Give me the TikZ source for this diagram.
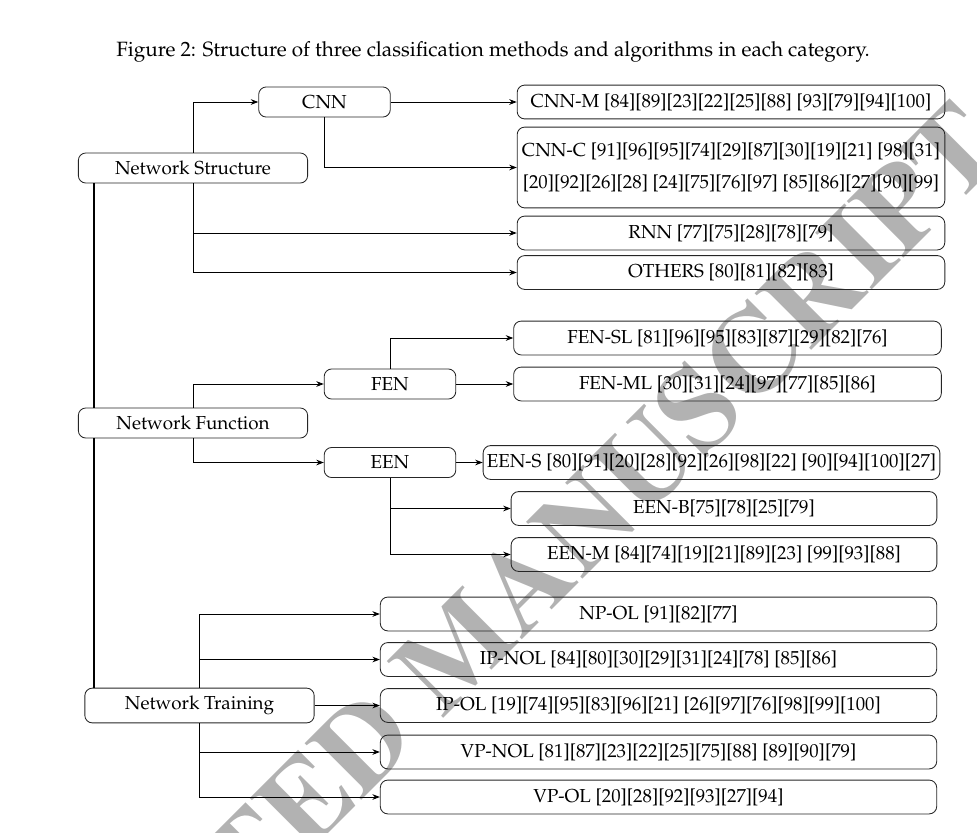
\documentclass[tikz,border=0pt]{standalone}
\usepackage[T1]{fontenc}
\usepackage{mathpazo}
\usepackage{tikz}
\usetikzlibrary{arrows.meta}

\begin{document}
\begin{tikzpicture}[x=0.532pt,y=-0.532pt,
    box/.style={draw=black!85,line width=0.45pt,rounded corners=4pt,inner sep=0pt,align=center},
    cat/.style={box,minimum width=122pt,minimum height=16pt},
    sub/.style={box,minimum width=70pt,minimum height=16pt},
    leaf/.style={box,minimum width=227.5pt,minimum height=18pt},
    wide/.style={box,minimum width=296pt,minimum height=18pt},
    arr/.style={-{Stealth[length=4pt,width=3pt]},line width=0.5pt}]
  \useasboundingbox (0,0) rectangle (977,832);
  \begin{scope}
    \clip (0,0) rectangle (977,832);
    \node[text=black!30,rotate=45,anchor=base east,inner sep=0pt] (stamp) at (1010,152)
      {\fontfamily{ptm}\fontseries{b}\fontsize{63}{66}\selectfont ACCEPTED MANUSCRIPT};
  \end{scope}
  \node (caption) at (493,52) {\fontsize{11}{13}\selectfont Figure 2: Structure of three classification methods and algorithms in each category.};
  % structure
  \node[cat] (ns) at (193,168) {Network Structure};
  \node[sub] (cnn) at (324.5,102) {CNN};
  \node[leaf] (cnnm) at (731,102) {CNN-M [84][89][23][22][25][88] [93][79][94][100]};
  \node[leaf,minimum height=43pt] (cnnc) at (731,167.5)
    {CNN-C [91][96][95][74][29][87][30][19][21] [98][31]\\[5pt][20][92][26][28] [24][75][76][97] [85][86][27][90][99]};
  \node[leaf] (rnn) at (731,233) {RNN [77][75][28][78][79]};
  \node[leaf] (others) at (731,272.5) {OTHERS [80][81][82][83]};
  \draw[arr] (ns.north) |- (cnn.west);
  \draw[arr] (cnn.east) -- (cnnm.west);
  \draw[arr] (cnn.south) |- (cnnc.west);
  \draw[arr] (ns.south) |- (rnn.west);
  \draw[arr] (ns.south) |- (others.west);
  % function
  \node[cat] (nf) at (193,423) {Network Function};
  \node[sub] (fen) at (390,384) {FEN};
  \node[sub] (een) at (390,462.5) {EEN};
  \node[leaf] (fensl) at (727.5,338) {FEN-SL [81][96][95][83][87][29][82][76]};
  \node[leaf] (fenml) at (727.5,384) {FEN-ML [30][31][24][97][77][85][86]};
  \node[box,minimum width=243pt,minimum height=18pt] (eens) at (711.5,462.5)
    {EEN-S [80][91][20][28][92][26][98][22] [90][94][100][27]};
  \node[leaf,minimum width=226.5pt] (eenb) at (724,508.5) {EEN-B[75][78][25][79]};
  \node[leaf,minimum width=226.5pt] (eenm) at (724,554.5) {EEN-M [84][74][19][21][89][23] [99][93][88]};
  \draw[arr] (nf.north) |- (fen.west);
  \draw[arr] (nf.south) |- (een.west);
  \draw[arr] (fen.north) |- (fensl.west);
  \draw[arr] (fen.east) -- (fenml.west);
  \draw[arr] (een.east) -- (eens.west);
  \draw[arr] (een.south) |- (eenb.west);
  \draw[arr] (een.south) |- (eenm.west);
  % training
  \node[cat,minimum height=18.5pt] (nt) at (199.5,705.5) {Network Training};
  \node[wide] (npol) at (658.5,614) {NP-OL [91][82][77]};
  \node[wide] (ipnol) at (658.5,659.5) {IP-NOL [84][80][30][29][31][24][78] [85][86]};
  \node[wide] (ipol) at (658.5,705.5) {IP-OL [19][74][95][83][96][21] [26][97][76][98][99][100]};
  \node[wide] (vpnol) at (658.5,752) {VP-NOL [81][87][23][22][25][75][88] [89][90][79]};
  \node[wide] (vpol) at (658.5,797) {VP-OL [20][28][92][93][27][94]};
  \draw[arr] (nt.north) |- (npol.west);
  \draw[arr] (nt.north) |- (ipnol.west);
  \draw[arr] (nt.east) -- (ipol.west);
  \draw[arr] (nt.south) |- (vpnol.west);
  \draw[arr] (nt.south) |- (vpol.west);
  % spine
  \coordinate (spine) at (94,0);
  \draw[line width=1.4pt] (ns.south -| spine) -- (nf.north -| spine);
  \draw[line width=1.4pt] (nf.south -| spine) -- (nt.north -| spine);
\end{tikzpicture}
\end{document}
